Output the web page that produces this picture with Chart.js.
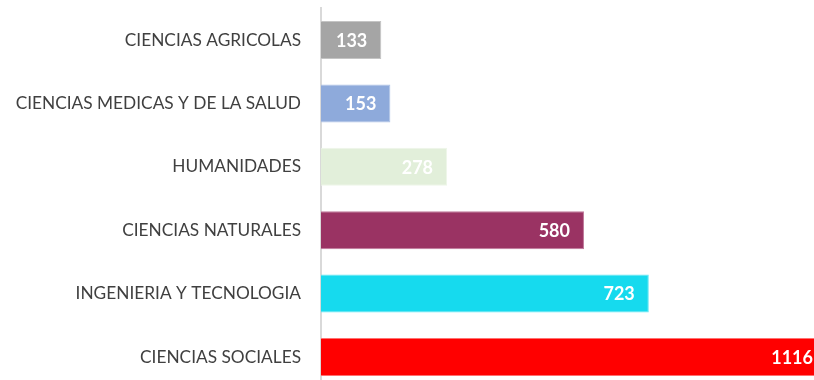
<!DOCTYPE html>
<html>
<head>
<meta charset="utf-8">
<script src="https://cdn.jsdelivr.net/npm/chart.js@4"></script>
<style>
  html, body { margin: 0; padding: 0; background: #ffffff; overflow: hidden; }
  #wrap { position: absolute; left: 0; top: -22px; width: 830px; height: 441px; }
</style>
</head>
<body>
<div id="wrap"><canvas id="areasChart"></canvas></div>
<script>
// Knowledge areas and their counts
const areas = [
    'CIENCIAS AGRICOLAS',
    'CIENCIAS MEDICAS Y DE LA SALUD',
    'HUMANIDADES',
    'CIENCIAS NATURALES',
    'INGENIERIA Y TECNOLOGIA',
    'CIENCIAS SOCIALES'
];
const counts = [133, 153, 278, 580, 723, 1116];
const barColors = ['#a5a5a5', '#8eaadb', '#e2efda', '#9a3363', '#16daee', '#ff0000'];
const edgeColors = ['#c4c4c4', '#aec2e6', '#eef6e9', '#c0799a', '#66e7f4', '#ff7070'];

const FONT = 'Lato, "Liberation Sans", sans-serif';

// Draw each value inside the end of its bar
const valueLabels = {
    id: 'valueLabels',
    afterDatasetsDraw(chart) {
        const ctx = chart.ctx;
        const meta = chart.getDatasetMeta(0);
        ctx.save();
        ctx.font = 'bold 18px ' + FONT;
        ctx.fillStyle = '#ffffff';
        ctx.textAlign = 'right';
        ctx.textBaseline = 'middle';
        meta.data.forEach((bar, i) => {
            ctx.fillText(String(counts[i]), bar.x - 14, bar.y + 1);
        });
        ctx.restore();
    }
};

new Chart(document.getElementById('areasChart'), {
    type: 'bar',
    data: {
        labels: areas,
        datasets: [{
            data: counts,
            backgroundColor: barColors,
            borderColor: edgeColors,
            borderWidth: 1,
            borderSkipped: 'left',
            categoryPercentage: 0.6,
            barPercentage: 1
        }]
    },
    options: {
        indexAxis: 'y',
        responsive: true,
        maintainAspectRatio: false,
        animation: false,
        layout: { padding: { top: 8, right: 3, bottom: 2, left: 0 } },
        plugins: {
            legend: { display: false },
            tooltip: { enabled: false }
        },
        scales: {
            x: {
                display: false,
                min: 0,
                max: 1116
            },
            y: {
                grid: { display: false, drawTicks: false },
                border: { display: true, color: '#d9d9d9', width: 2 },
                ticks: {
                    color: '#404040',
                    padding: 20,
                    font: { family: FONT, size: 17.3 }
                },
                afterFit(scale) {
                    scale.width = 321;
                }
            }
        }
    },
    plugins: [valueLabels]
});
</script>
</body>
</html>
